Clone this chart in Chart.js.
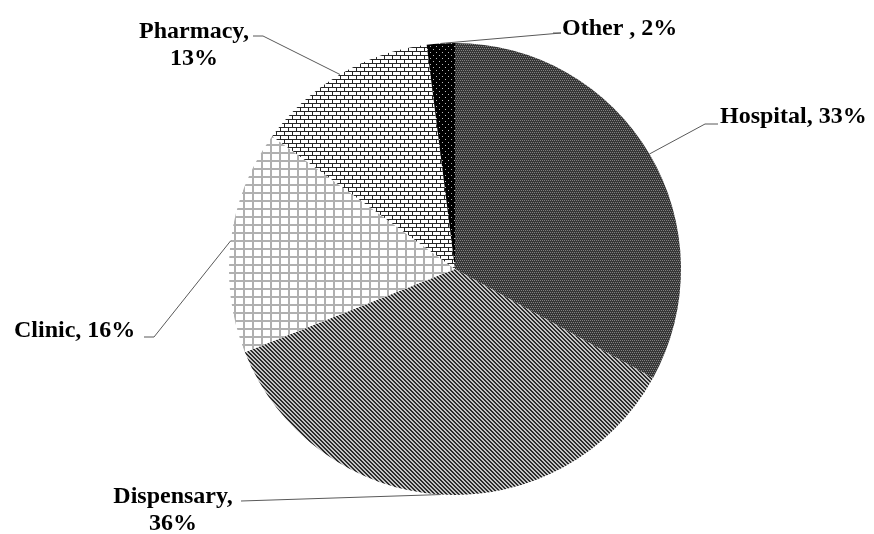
<!DOCTYPE html>
<html>
<head>
<meta charset="utf-8">
<script src="https://cdn.jsdelivr.net/npm/chart.js@4.4.1/dist/chart.umd.min.js"></script>
<style>
  html, body { margin: 0; padding: 0; background: #fff; }
  #chart { display: block; }
</style>
</head>
<body>
<canvas id="chart" width="874" height="534"></canvas>
<script>
// chart data
var categories = ['Hospital', 'Dispensary', 'Clinic', 'Pharmacy', 'Other '];
var shares = [33, 36, 16, 13, 2];

// label placement (layout only): text lines, anchor x, baselines, leader elbow
var labelLayout = [
  {split: false, align: 'left',   x: 720, y: [123],      elbow: [[705, 124], [718, 124]]},
  {split: true,  align: 'center', x: 173, y: [503, 530], elbow: [[241, 501]]},
  {split: false, align: 'left',   x: 14,  y: [337],      elbow: [[154, 337], [144, 337]]},
  {split: true,  align: 'center', x: 194, y: [38, 65],   elbow: [[263, 36], [253, 36]]},
  {split: false, align: 'left',   x: 562, y: [35],       elbow: [[561, 33], [553, 33]]}
];

//Build a small tiled pattern
function makePattern(w, h, draw) {
  var c = document.createElement('canvas');
  c.width = w; c.height = h;
  var g = c.getContext('2d');
  draw(g);
  return g.createPattern(c, 'repeat');
}

var ctx = document.getElementById('chart').getContext('2d');

var patHospital = makePattern(4, 4, function (g) {
  g.fillStyle = '#363636'; g.fillRect(0, 0, 4, 4);
  g.fillStyle = '#808080';
  g.fillRect(0, 0, 1, 1); g.fillRect(2, 0, 1, 1);
  g.fillRect(1, 2, 1, 1); g.fillRect(3, 2, 1, 1);
});
var patDispensary = makePattern(4, 4, function (g) {
  g.fillStyle = '#c4c4c4'; g.fillRect(0, 0, 4, 4);
  g.fillStyle = '#2c2c2c';
  for (var y = 0; y < 4; y++) {
    for (var x = 0; x < 4; x++) {
      var d = ((x - y) % 4 + 4) % 4;
      if (d < 2) g.fillRect(x, y, 1, 1);
    }
  }
});
var patClinic = makePattern(9, 8, function (g) {
  g.fillStyle = '#ffffff'; g.fillRect(0, 0, 9, 8);
  g.fillStyle = '#b0b0b0';
  g.fillRect(0, 0, 2, 8);
  g.fillRect(0, 0, 9, 2);
});
var patPharmacy = makePattern(8, 8, function (g) {
  g.fillStyle = '#ffffff'; g.fillRect(0, 0, 8, 8);
  g.fillStyle = '#262626';
  g.fillRect(0, 3, 8, 1);
  g.fillRect(0, 7, 8, 1);
  g.fillRect(0, 0, 1, 3);
  g.fillRect(4, 4, 1, 3);
});
var patOther = makePattern(6, 6, function (g) {
  g.fillStyle = '#000000'; g.fillRect(0, 0, 6, 6);
  g.fillStyle = '#bdbdbd';
  g.fillRect(1, 1, 1, 1); g.fillRect(4, 4, 1, 1);
});

var sliceLabels = {
  id: 'sliceLabels',
  afterDraw: function (chart) {
    var c = chart.ctx;
    var arcs = chart.getDatasetMeta(0).data;
    c.save();
    arcs.forEach(function (arc, i) {
      var lay = labelLayout[i];
      var mid = (arc.startAngle + arc.endAngle) / 2;
      var ax = arc.x + Math.cos(mid) * arc.outerRadius;
      var ay = arc.y + Math.sin(mid) * arc.outerRadius;
      // leader line
      c.strokeStyle = '#595959';
      c.lineWidth = 1;
      c.beginPath();
      c.moveTo(ax, ay);
      lay.elbow.forEach(function (p) { c.lineTo(p[0], p[1]); });
      c.stroke();
      // text
      var lines;
      if (lay.split) lines = [categories[i] + ',', shares[i] + '%'];
      else lines = [categories[i] + ', ' + shares[i] + '%'];
      c.fillStyle = '#000000';
      c.font = 'bold 24px "Liberation Serif", "Times New Roman", serif';
      c.textAlign = lay.align;
      c.textBaseline = 'alphabetic';
      lines.forEach(function (t, k) { c.fillText(t, lay.x, lay.y[k]); });
    });
    c.restore();
  }
};

var myChart = new Chart(ctx, {
  type: 'pie',
  data: {
    labels: categories,
    datasets: [{
      data: shares,
      backgroundColor: [patHospital, patDispensary, patClinic, patPharmacy, patOther],
      borderWidth: 0,
      offset: 0,
      hoverOffset: 0
    }]
  },
  options: {
    responsive: false,
    animation: false,
    radius: 226,
    layout: { padding: { left: 229, right: 193, top: 43, bottom: 39 } },
    plugins: {
      legend: { display: false },
      tooltip: { enabled: false }
    }
  },
  plugins: [sliceLabels]
});
</script>
</body>
</html>
